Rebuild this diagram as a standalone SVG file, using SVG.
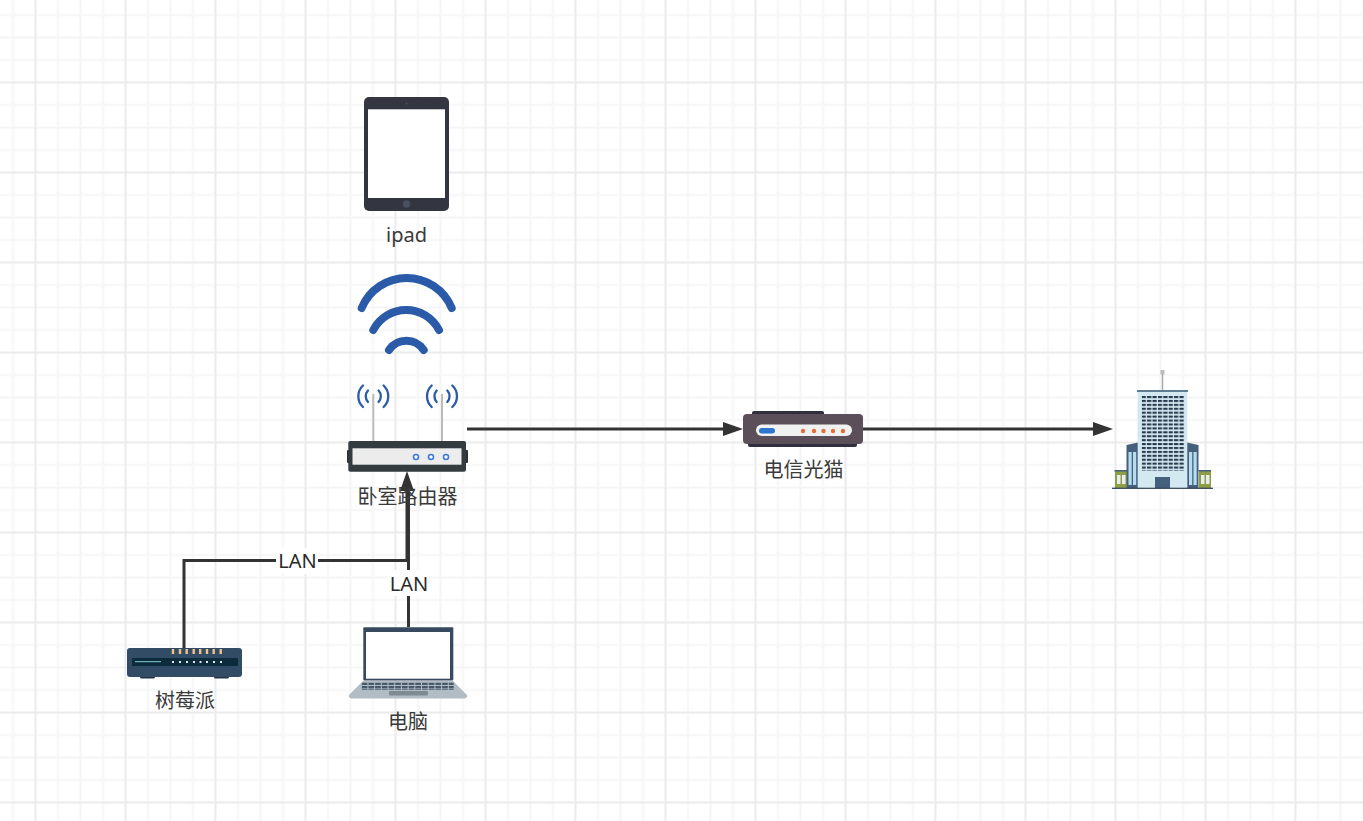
<svg xmlns="http://www.w3.org/2000/svg" width="1363" height="821" viewBox="0 0 1363 821">
<style>
.lb{font-family:"Noto Sans","Noto Sans CJK SC",sans-serif;font-size:20px;fill:#3a3a3a;text-anchor:middle}
.ln{fill:#2a2a2a}
.c{fill:none;stroke:#333;stroke-width:3}
.w{fill:none;stroke:#2b5ba8;stroke-width:8;stroke-linecap:round}
.a{fill:none;stroke:#2b5ba8;stroke-width:2.300;stroke-linecap:round}
.d{fill:#fff;stroke:#3d7bd6;stroke-width:1.600}
.m{fill:#e0703a}
.o{fill:#f0c28a}
.wd{fill:#e8eef0}
.bw{fill:#b6dcee}
.bg{fill:#8f9e45}
.bt{fill:#45607c}
</style>
<defs>
<pattern id="grid" width="90" height="90" patternUnits="userSpaceOnUse" patternTransform="translate(35.5 82.5)">
<path d="M22.500 0V90M45 0V90M67.500 0V90M0 22.500H90M0 45H90M0 67.500H90" fill="none" stroke="#f5f5f5" stroke-width="2"/>
<path d="M0 0V90M90 0V90M0 0H90M0 90H90" fill="none" stroke="#ebebeb" stroke-width="2"/>
</pattern>
<pattern id="win" x="1141.700" y="396" width="5.400" height="3.920" patternUnits="userSpaceOnUse">
<rect width="4.200" height="2.100" fill="#2a3a4e"/>
</pattern>
<pattern id="keys" x="361.700" y="682.500" width="6.700" height="3.400" patternUnits="userSpaceOnUse">
<rect width="5.700" height="2.500" fill="#46586a"/>
</pattern>
<marker id="ah" markerUnits="userSpaceOnUse" markerWidth="20" markerHeight="14" refX="0" refY="7" orient="auto" overflow="visible">
<path d="M0 0L20 7L0 14Z" fill="#333"/>
</marker>
</defs>
<rect width="1363" height="821" fill="#fff"/>
<rect id="background-grid" width="1363" height="821" fill="url(#grid)"/>

<g id="connectors">
<path class="c" d="M467 429H723" marker-end="url(#ah)"/>
<path class="c" d="M863 429H1093" marker-end="url(#ah)"/>
<path class="c" d="M184 648V560.500H407V491" marker-end="url(#ah)"/>
<path class="c" d="M408.500 627V491"/>
</g>

<g id="ipad">
<rect x="364" y="97" width="85" height="114" rx="5" fill="#333640"/>
<rect x="368" y="109.300" width="77" height="88.700" fill="#fff"/>
<circle cx="406.500" cy="204" r="3.700" fill="#4a5060"/>
<circle cx="406.500" cy="103.500" r="1" fill="#4a5060"/>
<text class="lb" x="406.500" y="242">ipad</text>
</g>

<g id="wifi">
<path class="w" d="M361.700 308A48.750 48.750 0 0 1 451.700 308"/>
<path class="w" d="M373.300 330A37 37 0 0 1 439 330"/>
<path class="w" d="M389 350A21 21 0 0 1 423.700 350"/>
</g>

<g id="router">
<path d="M373.300 394V441M442 394V441" stroke="#bbb" stroke-width="2" fill="none"/>
<path class="a" d="M363 385.500A14.700 14.700 0 0 0 363 407M383.600 385.500A14.700 14.700 0 0 1 383.600 407M368 390.500A8.500 8.500 0 0 0 368 402M378.600 390.500A8.500 8.500 0 0 1 378.600 402"/>
<path class="a" d="M431.700 385.500A14.700 14.700 0 0 0 431.700 407M452.300 385.500A14.700 14.700 0 0 1 452.300 407M436.700 390.500A8.500 8.500 0 0 0 436.700 402M447.300 390.500A8.500 8.500 0 0 1 447.300 402"/>
<rect x="347" y="450" width="121" height="13" rx="1" fill="#2a3034"/>
<rect x="348.300" y="441" width="117.700" height="30.700" rx="2" fill="#343c40"/>
<rect x="352.500" y="448.300" width="109" height="16.400" fill="#ececec"/>
<circle class="d" cx="416" cy="457" r="2.500"/>
<circle class="d" cx="431" cy="457" r="2.500"/>
<circle class="d" cx="446" cy="457" r="2.500"/>
<text class="lb" x="407.500" y="504">卧室路由器</text>
</g>

<g id="modem">
<rect x="752" y="411" width="72" height="6" rx="2" fill="#2f2f3d"/>
<rect x="748" y="441" width="109" height="6" rx="2" fill="#2f2f3d"/>
<rect x="743" y="414" width="120" height="30" rx="4" fill="#5b5059"/>
<rect x="756" y="424.500" width="96" height="11.500" rx="5.700" fill="#f0f2f2"/>
<rect x="759" y="428" width="16" height="5.500" rx="2.700" fill="#2f74d0"/>
<circle class="m" cx="803" cy="431" r="2.200"/>
<circle class="m" cx="814" cy="431" r="2.200"/>
<circle class="m" cx="823.500" cy="431" r="2.200"/>
<circle class="m" cx="833" cy="431" r="2.200"/>
<circle class="m" cx="843" cy="431" r="2.200"/>
<text class="lb" x="803.500" y="477">电信光猫</text>
</g>

<g id="building">
<path d="M1162.500 372V391" stroke="#aaa" stroke-width="1.500"/>
<rect x="1160.500" y="370" width="4" height="4.500" fill="#bbb"/>
<path class="bg" d="M1115 471H1127V488H1115Z"/>
<path class="bg" d="M1199 471H1211V488H1199Z"/>
<rect class="bt" x="1114.500" y="470" width="12.500" height="1.500"/>
<rect class="bt" x="1198.500" y="470" width="12.500" height="1.500"/>
<rect class="wd" x="1117" y="475" width="3.500" height="9"/>
<rect class="wd" x="1122" y="475" width="3.500" height="9"/>
<rect class="wd" x="1201" y="475" width="3.500" height="9"/>
<rect class="wd" x="1206" y="475" width="3.500" height="9"/>
<path class="bt" d="M1126.500 445L1138 442.500V488H1126.500Z"/>
<path class="bt" d="M1187 442.500L1198.500 445V488H1187Z"/>
<rect class="bw" x="1128.500" y="452" width="3.200" height="33"/>
<rect class="bw" x="1133" y="452" width="3.200" height="33"/>
<rect class="bw" x="1189" y="452" width="3.200" height="33"/>
<rect class="bw" x="1193.500" y="452" width="3.200" height="33"/>
<rect x="1137.700" y="391" width="49.600" height="97" fill="#d3e9f1"/>
<rect x="1137" y="390" width="51" height="2" fill="#5f7d92"/>
<rect x="1141.700" y="396" width="43" height="75" fill="url(#win)"/>
<rect class="bt" x="1155" y="477" width="15" height="11"/>
<rect x="1112" y="487.700" width="101" height="1.200" fill="#2e3e4e"/>
</g>

<g id="raspberry-pi">
<rect x="140" y="675" width="15" height="3.500" rx="1.500" fill="#1e3448"/>
<rect x="214" y="675" width="15" height="3.500" rx="1.500" fill="#1e3448"/>
<rect x="127" y="648" width="115" height="29" rx="3" fill="#324c66"/>
<rect x="132" y="658" width="106" height="8" rx="1" fill="#0c2b3d"/>
<rect x="135" y="661" width="26" height="1.200" fill="#6fb3b8"/>
<path class="o" d="M171.800 649h2.400v5h-2.400zM178.800 649h2.400v5h-2.400zM185.500 649h2.400v5h-2.400zM192.500 649h2.400v5h-2.400zM199 649h2.400v5h-2.400zM205.800 649h2.400v5h-2.400zM212.500 649h2.400v5h-2.400zM219.500 649h2.400v5h-2.400z"/>
<path fill="#dfe8ec" d="M172 661h2v2h-2zM179 661h2v2h-2zM186 661h2v2h-2zM193 661h2v2h-2zM199.500 661h2v2h-2zM206 661h2v2h-2zM213 661h2v2h-2zM220 661h2v2h-2z"/>
<text class="lb" x="185" y="708">树莓派</text>
</g>

<g id="laptop">
<rect x="363.300" y="627.300" width="90" height="53.200" rx="1" fill="#37495e"/>
<rect x="366" y="632" width="84" height="46.700" fill="#fff"/>
<path d="M363 681H453L467 695V697L465 698.500H351L349 697V695Z" fill="#b1bcc5"/>
<rect x="361.700" y="682.500" width="92" height="7.500" fill="url(#keys)"/>
<rect x="389" y="691" width="39" height="4.500" rx="1" fill="#7f8b92"/>
<text class="lb" x="408" y="729">电脑</text>
</g>

<g id="connector-labels">
<rect x="276" y="548" width="42" height="26" fill="#fff"/>
<text class="lb ln" x="297.500" y="568">LAN</text>
<rect x="389" y="570" width="40" height="26" fill="#fff"/>
<text class="lb ln" x="409" y="590.500">LAN</text>
</g>
</svg>
